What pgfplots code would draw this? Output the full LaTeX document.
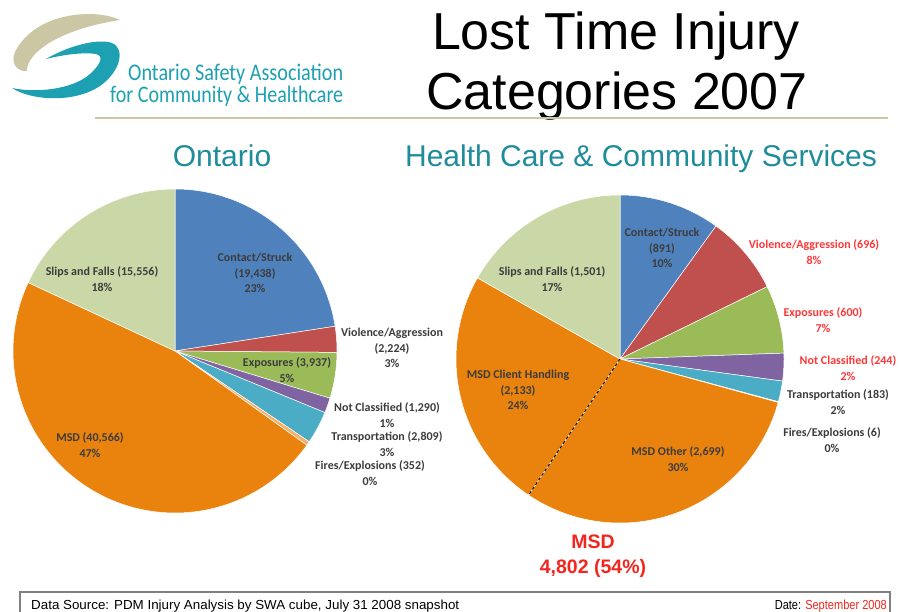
\documentclass[border=0pt]{standalone}
\usepackage{pgfplots}
\pgfplotsset{compat=1.18}
\usepackage{graphicx}
\usepackage{fontspec}
\setmainfont{Liberation Sans}
\newfontfamily\carlito{Carlito}
\definecolor{cblue}{HTML}{4F81BD}
\definecolor{cred}{HTML}{C0504D}
\definecolor{cgreen}{HTML}{9BBB59}
\definecolor{cpurple}{HTML}{8064A2}
\definecolor{cteal}{HTML}{4BACC6}
\definecolor{corange}{HTML}{E9830E}
\definecolor{cslips}{HTML}{C9D8A6}
\definecolor{cfires}{HTML}{F5B06A}
\definecolor{tan}{HTML}{CBC6A4}
\definecolor{logoteal}{HTML}{1DA0B1}
\definecolor{subteal}{HTML}{1E8C9B}
\definecolor{lbl}{HTML}{3C3C3C}
\definecolor{lred}{HTML}{FF3838}
\definecolor{msdred}{HTML}{F2261E}

% pie helpers: centre x, centre y, radius (pixels), total
\newcommand\startpie[4]{\gdef\pcx{#1}\gdef\pcy{#2}\gdef\pr{#3}\gdef\ptot{#4}\gdef\pcum{0}}
\newcommand\slice[2]{%
  \edef\sa{\fpeval{90-360*\pcum/\ptot}}%
  \edef\newcum{\fpeval{\pcum+#1}}%
  \edef\sb{\fpeval{90-360*\newcum/\ptot}}%
  \xdef\pcum{\newcum}%
  \edef\tmp{\noexpand\addplot[fill=#2,draw=white,line width=0.5pt,domain=\sb:\sa,samples=90,variable=\noexpand\t]
    ({\pcx+\pr*cos(\noexpand\t)},{\pcy-\pr*sin(\noexpand\t)}) -- (axis cs:\pcx,\pcy) -- cycle;}%
  \tmp}
\tikzset{lab/.style={align=center,font=\carlito\bfseries\fontsize{12}{15.5}\selectfont,text=lbl,inner sep=0pt}}

\begin{document}
\begin{tikzpicture}
\fill[white] (0,0) rectangle (902pt,612pt);
\begin{axis}[scale only axis, width=902pt, height=612pt,
  xmin=0, xmax=902, ymin=0, ymax=612, y dir=reverse,
  hide axis, clip=false]

% ---- logo ----
\fill[tan] (120,20) .. controls (95,8) and (35,12) .. (15,52)
   .. controls (10,64) and (18,72) .. (27,71)
   .. controls (26,55) and (55,30) .. (120,20) -- cycle;
\fill[logoteal] (46,59) .. controls (68,46) and (98,38) .. (112,43)
   .. controls (126,49) and (120,72) .. (100,86)
   .. controls (75,103) and (32,101) .. (12,88)
   .. controls (35,93) and (72,90) .. (90,74)
   .. controls (101,64) and (104,56) .. (96,54)
   .. controls (82,52) and (62,55) .. (46,59) -- cycle;
\node[anchor=base west,inner sep=0pt,text=logoteal] at (axis cs:128,81)
   {\resizebox{215pt}{16.5pt}{\carlito Ontario Safety Association}};
\node[anchor=base west,inner sep=0pt,text=logoteal] at (axis cs:110,103)
   {\resizebox{233pt}{16.5pt}{\carlito for Community \& Healthcare}};

% ---- title ----
\node[anchor=base,inner sep=0pt,font=\fontsize{52}{60}\selectfont] at (axis cs:616,50) {Lost Time Injury};
\node[anchor=base,inner sep=0pt,font=\fontsize{52}{60}\selectfont] at (axis cs:617,110) {Categories 2007};
\draw[tan,line width=2.5pt] (axis cs:95,118) -- (axis cs:888,118);

% ---- subtitles ----
\node[anchor=base,inner sep=0pt,text=subteal,font=\fontsize{30}{34}\selectfont] at (axis cs:222,167) {Ontario};
\node[anchor=base,inner sep=0pt,text=subteal,font=\fontsize{30}{34}\selectfont] at (axis cs:641,167) {Health Care \& Community Services};

% ---- Ontario pie ----
\startpie{175}{351}{162}{86172}
\slice{19438}{cblue}   % Contact/Struck
\slice{2224}{cred}     % Violence/Aggression
\slice{3937}{cgreen}   % Exposures
\slice{1290}{cpurple}  % Not Classified
\slice{2809}{cteal}    % Transportation
\slice{352}{cfires}    % Fires/Explosions
\slice{40566}{corange} % MSD
\slice{15556}{cslips}  % Slips and Falls

% ---- Health care pie ----
\startpie{620}{359}{164}{8953}
\slice{891}{cblue}     % Contact/Struck
\slice{696}{cred}      % Violence/Aggression
\slice{600}{cgreen}    % Exposures
\slice{244}{cpurple}   % Not Classified
\slice{183}{cteal}     % Transportation
\slice{6}{cfires}      % Fires/Explosions
\slice{2699}{corange}  % MSD Other
\edef\dang{\fpeval{90-360*\pcum/\ptot}}
\edef\dx{\fpeval{620+164*cosd(\dang)}}
\edef\dy{\fpeval{359-164*sind(\dang)}}
\slice{2133}{corange}  % MSD Client Handling
\slice{1501}{cslips}   % Slips and Falls
\edef\tmp{\noexpand\addplot[black,dashed,line width=0.9pt,dash pattern=on 3pt off 2.5pt] coordinates {(620,359) (\dx,\dy)};}\tmp

% ---- Ontario labels ----
\node[lab] at (axis cs:255,273) {Contact/Struck\\(19,438)\\23\%};
\node[lab] at (axis cs:102,279) {Slips and Falls (15,556)\\18\%};
\node[lab] at (axis cs:287,370) {Exposures (3,937)\\5\%};
\node[lab] at (axis cs:90,445) {MSD (40,566)\\47\%};
\node[lab] at (axis cs:392,348) {Violence/Aggression\\(2,224)\\3\%};
\node[lab] at (axis cs:387,415) {Not Classified (1,290)\\1\%};
\node[lab] at (axis cs:387,444) {Transportation (2,809)\\3\%};
\node[lab] at (axis cs:370,473) {Fires/Explosions (352)\\0\%};

% ---- Health care labels ----
\node[lab] at (axis cs:662,248) {Contact/Struck\\(891)\\10\%};
\node[lab,text=lred] at (axis cs:814,252) {Violence/Aggression (696)\\8\%};
\node[lab,text=lred] at (axis cs:823,320) {Exposures (600)\\7\%};
\node[lab,text=lred] at (axis cs:848,368) {Not Classified (244)\\2\%};
\node[lab] at (axis cs:838,402) {Transportation (183)\\2\%};
\node[lab] at (axis cs:832,440) {Fires/Explosions (6)\\0\%};
\node[lab] at (axis cs:552,279) {Slips and Falls (1,501)\\17\%};
\node[lab] at (axis cs:518,390) {MSD Client Handling\\(2,133)\\24\%};
\node[lab] at (axis cs:678,459) {MSD Other (2,699)\\30\%};

% ---- MSD total ----
\node[anchor=base,inner sep=0pt,text=msdred,font=\bfseries\fontsize{19.5}{22}\selectfont] at (axis cs:593,548) {MSD};
\node[anchor=base,inner sep=0pt,text=msdred,font=\bfseries\fontsize{19.5}{22}\selectfont] at (axis cs:593,573) {4,802 (54\%)};

% ---- footer ----
\draw[black!50,line width=1.3pt] (axis cs:20,592) rectangle (axis cs:890,630);
\node[anchor=base west,inner sep=0pt] at (axis cs:31,609)
  {\resizebox{428pt}{9.5pt}{Data Source: PDM Injury Analysis by SWA cube, July 31 2008 snapshot}};
\node[anchor=base east,inner sep=0pt] at (axis cs:887,609)
  {\resizebox{112pt}{9.5pt}{Date: \textcolor{msdred}{September 2008}}};
\end{axis}
\pgfresetboundingbox
\path[use as bounding box] (0,0) rectangle (902pt,612pt);
\end{tikzpicture}
\end{document}
